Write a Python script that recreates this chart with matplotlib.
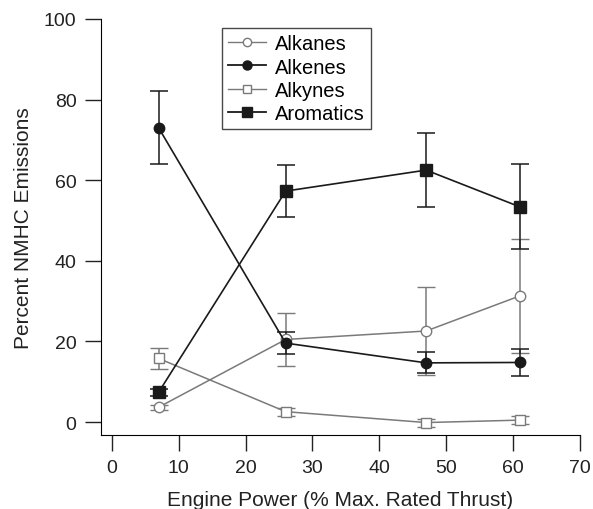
import matplotlib
matplotlib.use("Agg")
import matplotlib.pyplot as plt
from matplotlib.lines import Line2D

plt.rcParams["font.family"] = ["Liberation Sans", "DejaVu Sans"]

# engine power settings (% max rated thrust)
power = [7, 26, 47, 61]

alkanes = [3.7, 20.5, 22.6, 31.3]
alkanes_err = [0.6, 6.5, 10.8, 14.1]

alkenes = [73.0, 19.6, 14.7, 14.8]
alkenes_err = [9.1, 2.8, 2.6, 3.3]

alkynes = [15.8, 2.6, -0.1, 0.5]
alkynes_err = [2.5, 1.0, 1.0, 1.0]

aromatics = [7.4, 57.3, 62.5, 53.4]
aromatics_err = [0.8, 6.5, 9.1, 10.5]

xticks = [0, 10, 20, 30, 40, 50, 60, 70]
yticks = [0, 20, 40, 60, 80, 100]

GRAY = "#7a7a7a"
BLACK = "#1a1a1a"
TXT = "#222222"

fig = plt.figure(figsize=(5.93, 5.10), dpi=100)
ax = fig.add_axes([0.170, 0.145, 0.808, 0.816])

common = dict(capsize=6.5, capthick=1.1, elinewidth=1.1)
ax.errorbar(power, alkanes, yerr=alkanes_err, color=GRAY, marker="o", ms=7.5,
            mfc="white", mec=GRAY, mew=1.0, lw=1.1, **common)
ax.errorbar(power, alkenes, yerr=alkenes_err, color=BLACK, marker="o", ms=7.5,
            mfc=BLACK, mec=BLACK, lw=1.2, **common)
ax.errorbar(power, alkynes, yerr=alkynes_err, color=GRAY, marker="s", ms=7.5,
            mfc="white", mec=GRAY, mew=1.0, lw=1.1, **common)
ax.errorbar(power, aromatics, yerr=aromatics_err, color=BLACK, marker="s", ms=8,
            mfc=BLACK, mec=BLACK, lw=1.2, **common)

ax.set_xlim(-1.64, 70)
ax.set_ylim(-3.2, 100)
ax.set_xticks(xticks)
ax.set_yticks(yticks)
ax.spines["top"].set_visible(False)
ax.spines["right"].set_visible(False)
ax.tick_params(direction="out", length=11.5, width=1, pad=6, labelsize=14, colors=TXT)
ax.set_xlabel("Engine Power (% Max. Rated Thrust)", fontsize=15, color=TXT, labelpad=10)
ax.set_ylabel("Percent NMHC Emissions", fontsize=15, color=TXT, labelpad=8)

handles = [
    Line2D([], [], color=GRAY, lw=1.0, marker="o", ms=6, mfc="white", mec=GRAY),
    Line2D([], [], color=BLACK, lw=1.3, marker="o", ms=6.5, mfc=BLACK, mec=BLACK),
    Line2D([], [], color=GRAY, lw=1.0, marker="s", ms=6, mfc="white", mec=GRAY),
    Line2D([], [], color=BLACK, lw=1.3, marker="s", ms=6.5, mfc=BLACK, mec=BLACK),
]
labels = ["Alkanes", "Alkenes", "Alkynes", "Aromatics"]
leg = ax.legend(handles, labels, loc="upper left", bbox_to_anchor=(0.252, 0.978),
                fontsize=14.5, frameon=True, fancybox=False, edgecolor=BLACK,
                handlelength=1.9, borderpad=0.3, labelspacing=0.22,
                handletextpad=0.45, borderaxespad=0)
leg.get_frame().set_linewidth(1.0)

fig.savefig("out.png", dpi=100)
